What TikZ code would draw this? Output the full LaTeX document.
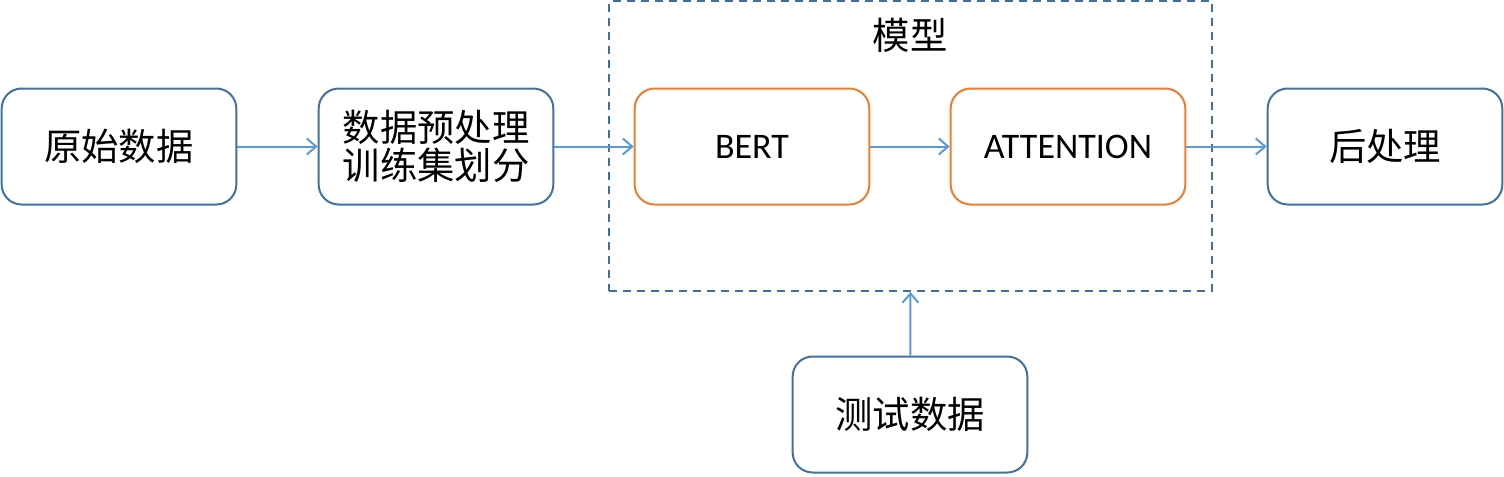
\documentclass[tikz,border=0pt]{standalone}
\usepackage{fontspec}
\setmainfont{Carlito}
\newfontfamily\cjk{Noto Sans CJK SC}
\usetikzlibrary{arrows.meta}
\definecolor{boxblue}{HTML}{41719C}
\definecolor{arrblue}{HTML}{5B9BD5}
\definecolor{boxorange}{HTML}{ED7D31}
\begin{document}
\begin{tikzpicture}[x=0.75pt,y=-0.75pt,
  box/.style={draw=boxblue,line width=1.5pt,rounded corners=15pt,minimum width=176pt,minimum height=87pt,inner sep=0pt,font=\fontsize{28}{29}\selectfont\cjk,align=center,fill=white},
  obox/.style={box,draw=boxorange},
  arr/.style={draw=arrblue,line width=1.5pt,-{Straight Barb[length=7pt,width=12pt,line width=1.5pt]}},
  frame/.style={draw=boxblue,line width=1.4pt,dash pattern=on 6pt off 4.5pt}]
\useasboundingbox (0,0) rectangle (1504,476);
\node[frame,minimum width=452pt,minimum height=217.5pt,inner sep=0pt] (model) at (910.5,146) {};
\node[font=\fontsize{28}{29}\selectfont\cjk] (modellabel) at (910,35) {模型};
\node[box] (raw) at (119,146.5) {原始数据};
\node[box] (pre) at (436,146.5) {数据预处理\\[-1pt]训练集划分};
\node[obox,font=\fontsize{27}{29}\selectfont] (bert) at (752,146.5) {BERT};
\node[obox,font=\fontsize{27}{29}\selectfont] (att) at (1068,146.5) {ATTENTION};
\node[box] (post) at (1385,146.5) {后处理};
\node[box] (test) at (910,414.5) {测试数据};
\draw[arr] (raw) -- (pre);
\draw[arr] (pre) -- (bert);
\draw[arr] (bert) -- (att);
\draw[arr] (att) -- (post);
\draw[arr] (test) -- (model.south);
\end{tikzpicture}
\end{document}
